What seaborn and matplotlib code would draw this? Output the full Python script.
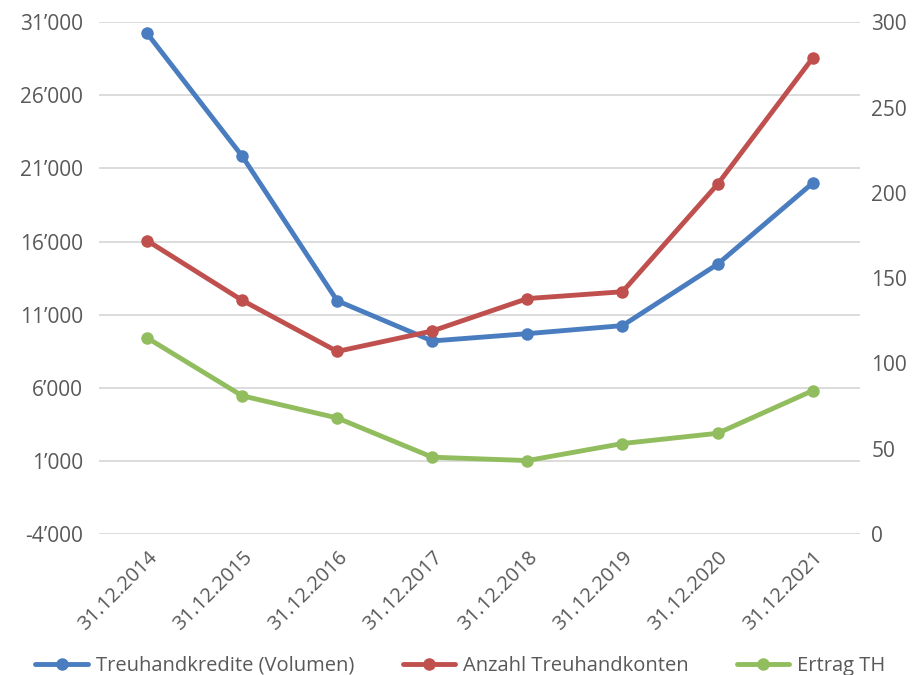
import seaborn as sns
import pandas as pd
import matplotlib.pyplot as plt
import matplotlib.ticker as ticker

dates = ['31.12.2014', '31.12.2015', '31.12.2016', '31.12.2017',
         '31.12.2018', '31.12.2019', '31.12.2020', '31.12.2021']
volumen = [30250, 21850, 11950, 9200, 9700, 10250, 14450, 20000]
konten = [172, 137, 107, 119, 138, 142, 205, 279]
ertrag = [115, 81, 68, 45, 43, 53, 59, 84]

blue = '#4A7DC0'
red = '#C0504D'
green = '#92BD5E'
grey = '#595959'

sns.set_theme(style='white')
plt.rcParams['font.family'] = ['Open Sans', 'DejaVu Sans']

df = pd.DataFrame({'Datum': dates, 'Treuhandkredite (Volumen)': volumen,
                   'Anzahl Treuhandkonten': konten, 'Ertrag TH': ertrag})

fig, ax = plt.subplots(figsize=(9.21, 6.75), dpi=100)
ax2 = ax.twinx()

kw = dict(marker='o', markersize=9, linewidth=3.5, markeredgewidth=0)
sns.lineplot(data=df, x='Datum', y='Treuhandkredite (Volumen)', ax=ax, color=blue,
             label='Treuhandkredite (Volumen)', legend=False, **kw)
sns.lineplot(data=df, x='Datum', y='Anzahl Treuhandkonten', ax=ax2, color=red,
             label='Anzahl Treuhandkonten', legend=False, **kw)
sns.lineplot(data=df, x='Datum', y='Ertrag TH', ax=ax2, color=green,
             label='Ertrag TH', legend=False, **kw)

ax.set_ylim(-4000, 31000)
ax.set_yticks(range(-4000, 31001, 5000))
ax.yaxis.set_major_formatter(ticker.FuncFormatter(lambda v, p: f'{int(v):,}'.replace(',', '\u2019')))
ax2.set_ylim(0, 300)
ax2.set_yticks(range(0, 301, 50))
ax.set_xlim(-0.5, len(dates) - 0.5)

ax.grid(axis='y', color='#D9D9D9', linewidth=1.3)
ax.set_axisbelow(True)
for a in (ax, ax2):
    for s in a.spines.values():
        s.set_visible(False)
    a.set_xlabel('')
    a.set_ylabel('')
    a.tick_params(length=0, colors=grey, labelsize=15)
ax.tick_params(axis='y', pad=12)
ax2.tick_params(axis='y', pad=8)
ax.set_xticks(range(len(dates)))
ax.set_xticklabels(dates, rotation=45, ha='right', rotation_mode='anchor')
ax.tick_params(axis='x', pad=10, labelsize=14.5)

h1, l1 = ax.get_legend_handles_labels()
h2, l2 = ax2.get_legend_handles_labels()
fig.legend(h1 + h2, l1 + l2, loc='lower center', ncol=3, frameon=False,
           fontsize=14.5, labelcolor=grey, bbox_to_anchor=(0.5, -0.028),
           handlelength=2.6, columnspacing=2.4, handletextpad=0.4)

fig.subplots_adjust(left=0.108, right=0.934, top=0.967, bottom=0.209)
fig.savefig('out.png', dpi=100)
